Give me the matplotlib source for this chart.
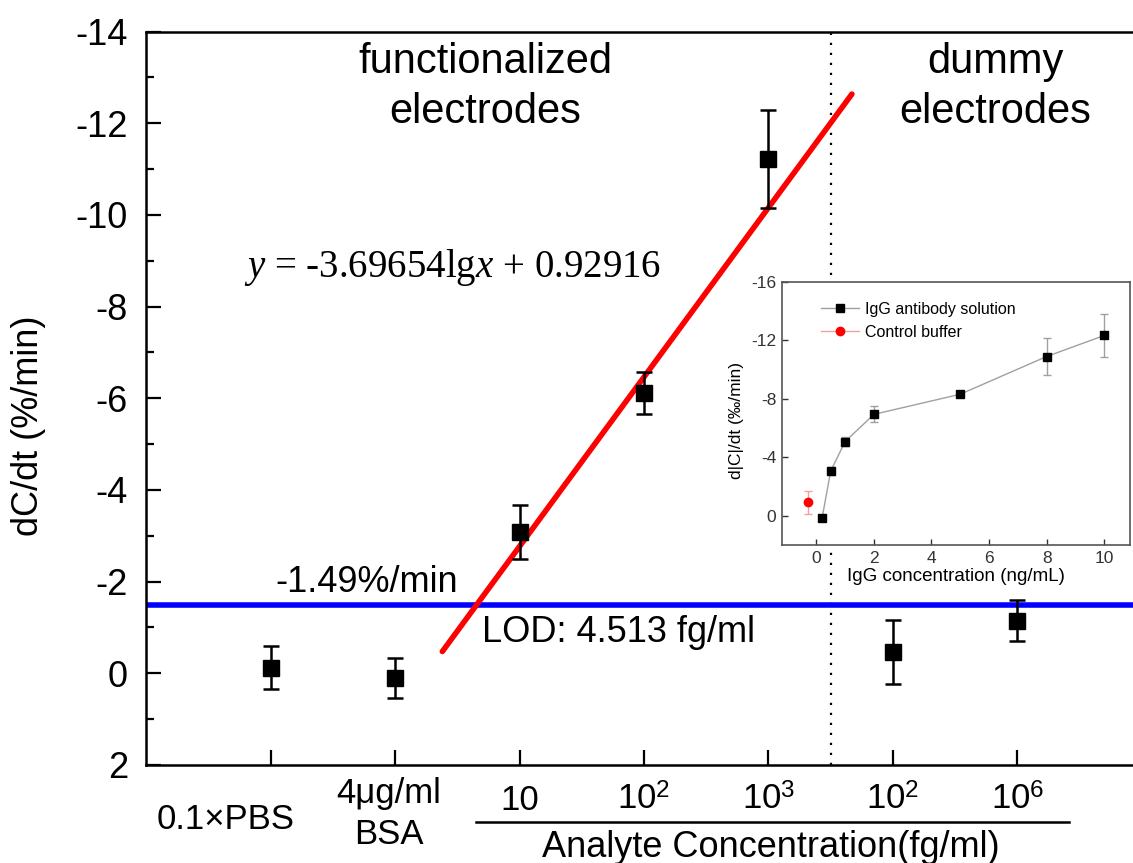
import numpy as np
import matplotlib
matplotlib.use("Agg")
import matplotlib.pyplot as plt

plt.rcParams["font.family"] = ["Liberation Sans", "DejaVu Sans"]
plt.rcParams["axes.unicode_minus"] = False
plt.rcParams["mathtext.fontset"] = "custom"
plt.rcParams["mathtext.rm"] = "Liberation Sans"
plt.rcParams["mathtext.it"] = "Liberation Serif:italic"

# main panel: response rate for each sample (dC/dt, %/min)
categories = ["0.1×PBS", "4μg/ml\nBSA", "10", "10$^2$", "10$^3$", "10$^2$", "10$^6$"]
rate = [-0.12, 0.10, -3.08, -6.11, -11.22, -0.47, -1.15]
rate_err = [0.47, 0.44, 0.59, 0.46, 1.07, 0.70, 0.45]

# linear fit against lg(concentration), and the detection threshold
fit_slope = -3.69654
fit_intercept = 0.92916
fit_lg_range = [0.38, 3.67]
lod_level = -1.49
lod_value = 4.513

# inset: IgG dose response
igg_conc = [0.2, 0.5, 1, 2, 5, 8, 10]
igg_rate = [0.16, -3.06, -5.08, -6.94, -8.32, -10.90, -12.34]
igg_err = [0.10, 0.30, 0.30, 0.55, 0.15, 1.25, 1.50]
ctrl_conc = [-0.3]
ctrl_rate = [-0.92]
ctrl_err = [0.77]

pos = np.arange(1, len(categories) + 1)

fig = plt.figure(figsize=(11.33, 8.63), dpi=100)
ax = fig.add_axes([0.1289, 0.1136, 0.8711, 0.8498])

ax.errorbar(pos, rate, yerr=rate_err, fmt="s", color="black", ms=12,
            elinewidth=1.8, capsize=6, capthick=1.8, zorder=4)

lg = np.array(fit_lg_range)
ax.plot(lg + 2, fit_slope * lg + fit_intercept, color="red", lw=4,
        solid_capstyle="round", zorder=3)
ax.axhline(lod_level, color="#0000ff", lw=4, zorder=2)
ax.axvline(5.5, color="black", ls=(0, (1, 3.5)), lw=1.6, zorder=1)

ax.set_xlim(0, 7.928)
ax.set_ylim(2, -14)
ax.set_yticks(np.arange(-14, 3, 2))
ax.set_yticks(np.arange(-13, 2, 2), minor=True)
ax.set_xticks(pos)
ax.tick_params(axis="both", which="major", direction="in", length=11, width=1.6,
               labelsize=26, pad=13)
ax.tick_params(axis="y", which="minor", direction="in", length=6, width=1.6)
ax.tick_params(axis="x", labelbottom=False)
for s in ["left", "bottom", "top"]:
    ax.spines[s].set_linewidth(1.8)
ax.spines["right"].set_visible(False)

fig.text(29 / 1133, 1 - 426 / 863, "dC/dt (%/min)", rotation=90,
         ha="center", va="center", fontsize=26)

# x tick labels drawn as text below the axis
ax.text(0.64, 3.20, categories[0], ha="center", va="center", fontsize=25, clip_on=False)
ax.text(1.95, 3.07, categories[1], ha="center", va="center", fontsize=25,
        linespacing=1.3, clip_on=False)
for p, lab in zip(pos[2:], categories[2:]):
    ax.text(p, 2.78, lab, ha="center", va="center", fontsize=25, clip_on=False)
ax.plot([2.647, 7.41], [3.24, 3.24], color="black", lw=1.8, clip_on=False)
ax.text(5.016, 3.79, "Analyte Concentration(fg/ml)", ha="center", va="center",
        fontsize=26, clip_on=False)

ax.text(2.727, -12.79, "functionalized\nelectrodes", ha="center", va="center",
        fontsize=30, linespacing=1.35)
ax.text(6.823, -12.79, "dummy\nelectrodes", ha="center", va="center",
        fontsize=30, linespacing=1.35)
ax.text(0.79, -8.85, r"$y$ = %.5flg$x$ + %.5f" % (fit_slope, fit_intercept),
        ha="left", va="center", fontsize=28, family="Liberation Serif")
ax.text(1.04, -1.97, "%.2f%%/min" % lod_level, ha="left", va="center", fontsize=26)
ax.text(2.70, -0.90, "LOD: %.3f fg/ml" % lod_value, ha="left", va="center", fontsize=26)

# inset
axi = fig.add_axes([0.690, 0.3685, 0.3074, 0.3047])
eb1 = axi.errorbar(igg_conc, igg_rate, yerr=igg_err, fmt="-s", color="#a0a0a0", lw=1,
                   mfc="black", mec="black", ms=5.5, elinewidth=1, capsize=3, capthick=1)
eb2 = axi.errorbar(ctrl_conc, ctrl_rate, yerr=ctrl_err, fmt="-o", color="#f5a0a0", lw=1,
                   mfc="red", mec="red", ms=6, elinewidth=1, capsize=3, capthick=1)
axi.set_xlim(-1.2, 10.9)
axi.set_ylim(2, -16)
axi.set_xticks([0, 2, 4, 6, 8, 10])
axi.set_yticks([-16, -12, -8, -4, 0])
axi.tick_params(direction="in", length=4, width=1, colors="#333333",
                labelsize=12.5, pad=4)
for s in axi.spines.values():
    s.set_color("#555555")
    s.set_linewidth(1.2)
axi.set_xlabel("IgG concentration (ng/mL)", fontsize=13.5, labelpad=2)
fig.text(737 / 1133, 1 - 420 / 863, "d|C|/dt (‰/min)", rotation=90,
         ha="center", va="center", fontsize=12.5)
axi.legend([eb1[0], eb2[0]], ["IgG antibody solution", "Control buffer"],
           loc="upper left", bbox_to_anchor=(0.07, 0.98), frameon=False,
           fontsize=11.5, handlelength=2.4, handletextpad=0.4, labelspacing=0.5)

fig.savefig("out.png", dpi=100)
